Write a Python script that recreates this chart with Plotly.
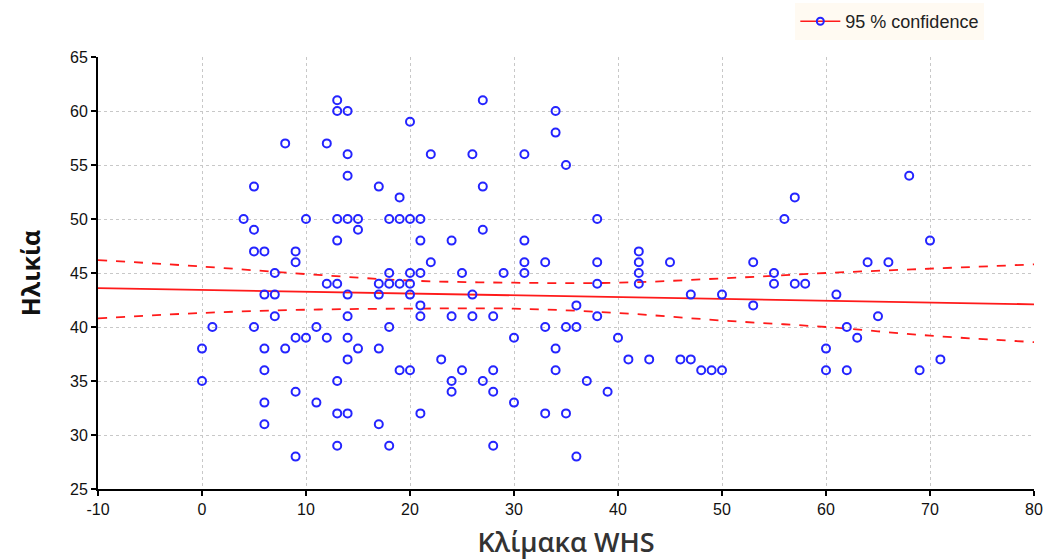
import plotly.graph_objects as go

# WHS scale score (x) and age (y) for each respondent
whs = [0, 0, 1, 4, 5, 5, 5, 5, 6, 6, 6, 6, 6, 6, 7, 7, 7, 8, 8,
       9, 9, 9, 9, 9, 10, 10, 11, 11, 12, 12, 12,
       13, 13, 13, 13, 13, 13, 13, 13,
       14, 14, 14, 14, 14, 14, 14, 14, 14,
       15, 15, 15, 17, 17, 17, 17, 17, 18, 18, 18, 18, 18,
       19, 19, 19, 19, 20, 20, 20, 20, 20, 20,
       21, 21, 21, 21, 21, 21, 22, 22, 23, 24, 24, 24, 24,
       25, 25, 26, 26, 26, 27, 27, 27, 27, 28, 28, 28, 28, 29,
       30, 30, 31, 31, 31, 31, 33, 33, 33, 34, 34, 34, 34,
       35, 35, 35, 36, 36, 36, 37, 38, 38, 38, 38, 39, 40, 41,
       42, 42, 42, 42, 43, 45, 46, 47, 47, 48, 49, 50, 50,
       53, 53, 55, 55, 56, 57, 57, 58, 60, 60, 61, 62, 62, 63,
       64, 65, 66, 68, 69, 70, 71]
age = [38, 35, 40, 50, 53, 49, 47, 40, 47, 43, 38, 36, 33, 31, 45, 43, 41, 57, 38,
       47, 46, 39, 34, 28, 50, 39, 40, 33, 57, 44, 39,
       61, 60, 50, 48, 44, 35, 32, 29,
       60, 56, 54, 50, 43, 41, 39, 37, 32,
       50, 49, 38, 53, 44, 43, 38, 31, 50, 45, 44, 40, 29,
       52, 50, 44, 36, 59, 50, 45, 44, 43, 36,
       50, 48, 45, 42, 41, 32, 56, 46, 37, 48, 41, 35, 34,
       45, 36, 56, 43, 41, 61, 53, 49, 35, 41, 36, 34, 29, 45,
       39, 33, 56, 48, 46, 45, 46, 40, 32, 60, 58, 38, 36,
       55, 40, 32, 42, 40, 28, 35, 50, 46, 44, 41, 34, 39, 37,
       47, 46, 45, 44, 37, 46, 37, 43, 37, 36, 36, 43, 36,
       46, 42, 45, 44, 50, 52, 44, 44, 38, 36, 43, 40, 36, 39,
       46, 41, 46, 54, 36, 48, 37]

# regression line and 95% confidence band
fit_x = [-10, 80]
fit_y = [43.6, 42.1]
band_x = [-10, 0, 10, 20, 30, 40, 50, 60, 70, 80]
band_upper = [46.2, 45.6, 44.9, 44.3, 44.1, 44.1, 44.5, 45.0, 45.4, 45.8]
band_lower = [40.8, 41.3, 41.6, 41.7, 41.7, 41.3, 40.6, 40.0, 39.2, 38.6]

# tick labels
x_ticks = [-10, 0, 10, 20, 30, 40, 50, 60, 70, 80]
x_labels = ["-10", "0", "10", "20", "30", "40", "50", "60", "70", "80"]
y_ticks = [25, 30, 35, 40, 45, 50, 55, 60, 65]
y_labels = ["25", "30", "35", "40", "45", "50", "55", "60", "65"]

RED = "#ff1a1a"
BLUE = "#2424ff"

fig = go.Figure()
fig.add_trace(go.Scatter(x=band_x, y=band_upper, mode="lines", showlegend=False,
                         line=dict(color=RED, width=1.8, dash="dash", shape="spline")))
fig.add_trace(go.Scatter(x=band_x, y=band_lower, mode="lines", showlegend=False,
                         line=dict(color=RED, width=1.8, dash="dash", shape="spline")))
fig.add_trace(go.Scatter(x=fit_x, y=fit_y, mode="lines", showlegend=False,
                         line=dict(color=RED, width=1.8)))
fig.add_trace(go.Scatter(x=whs, y=age, mode="markers", showlegend=False,
                         marker=dict(symbol="circle-open", size=8, color=BLUE,
                                     line=dict(width=2, color=BLUE))))
fig.add_trace(go.Scatter(x=[None], y=[None], mode="lines+markers", name="95 % confidence",
                         line=dict(color=RED, width=1.5),
                         marker=dict(symbol="circle-open", size=7, color=BLUE,
                                     line=dict(width=2, color=BLUE))))

tickfont = dict(family="Liberation Sans Narrow, Arial Narrow, sans-serif", size=16,
                color="#111")

fig.update_layout(
    width=1048, height=560,
    margin=dict(l=98, r=14, t=57, b=71, autoexpand=False),
    paper_bgcolor="white", plot_bgcolor="white",
    legend=dict(x=0.745, y=1.125, xanchor="left", yanchor="top",
                bgcolor="#fffaf2", borderwidth=0, itemwidth=40,
                font=dict(family="Liberation Sans, Arial, sans-serif", size=18, color="#222")),
    xaxis=dict(range=[-10, 80], tickvals=x_ticks, ticktext=x_labels,
               showline=True, linecolor="black", linewidth=2,
               ticks="outside", ticklen=5, tickcolor="black", tickwidth=2,
               showgrid=True, gridcolor="#c8c8c8", griddash="dot", gridwidth=1,
               zeroline=False, tickfont=tickfont,
               title=dict(text="Κλίμακα WHS", standoff=16,
                          font=dict(family="Open Sans, sans-serif", size=27, color="#333",
                                    weight=600))),
    yaxis=dict(range=[25, 65], tickvals=y_ticks, ticktext=y_labels,
               showline=True, linecolor="black", linewidth=2,
               ticks="outside", ticklen=5, tickcolor="black", tickwidth=2,
               showgrid=True, gridcolor="#c8c8c8", griddash="dot", gridwidth=1,
               zeroline=False, tickfont=tickfont,
               title=dict(text="<b>Ηλικία</b>", standoff=22,
                          font=dict(family="Open Sans, sans-serif", size=25, color="#111"))),
)

fig.write_html("out.html")
